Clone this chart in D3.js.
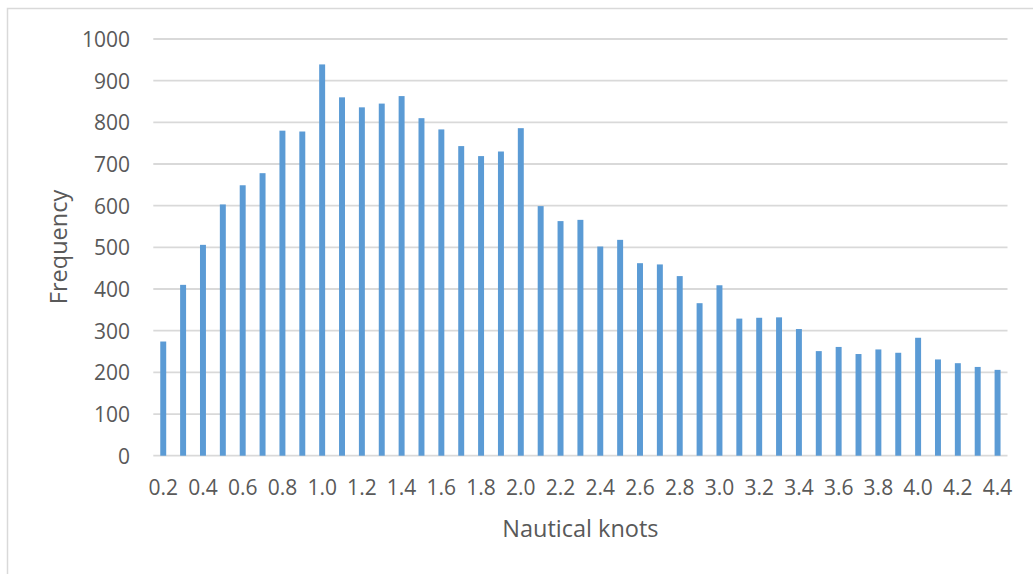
<!DOCTYPE html>
<html>
<head>
<meta charset="utf-8">
<script src="https://cdn.jsdelivr.net/npm/d3@7"></script>
<style>
  html, body { margin: 0; padding: 0; background: #fff; }
  svg { display: block; }
</style>
</head>
<body>
<svg id="chart" width="1033" height="574"></svg>
<script>
const categories = ["0.2","0.3","0.4","0.5","0.6","0.7","0.8","0.9","1.0","1.1","1.2","1.3","1.4","1.5","1.6","1.7","1.8","1.9","2.0","2.1","2.2","2.3","2.4","2.5","2.6","2.7","2.8","2.9","3.0","3.1","3.2","3.3","3.4","3.5","3.6","3.7","3.8","3.9","4.0","4.1","4.2","4.3","4.4"];
const frequency = [274,410,506,603,649,678,780,778,939,860,836,845,863,810,783,743,719,730,786,599,563,566,502,518,462,459,431,366,409,329,331,332,304,251,261,244,255,247,283,231,222,213,206];
const xTickLabels = ["0.2","0.4","0.6","0.8","1.0","1.2","1.4","1.6","1.8","2.0","2.2","2.4","2.6","2.8","3.0","3.2","3.4","3.6","3.8","4.0","4.2","4.4"];
const yTicks = [0,100,200,300,400,500,600,700,800,900,1000];
const xTitle = "Nautical knots";
const yTitle = "Frequency";

const svg = d3.select("#chart");
const textColor = "#595959";
const gridColor = "#d9d9d9";
const barColor = "#5b9bd5";
const font = "'Open Sans', sans-serif";

// chart area border
svg.append("rect")
  .attr("x", 7.5).attr("y", 8.5)
  .attr("width", 1200).attr("height", 700)
  .attr("fill", "none").attr("stroke", gridColor).attr("stroke-width", 1.5);

const plot = { left: 153.3, right: 1007.5, top: 39, bottom: 455.7 };

const x = d3.scaleBand().domain(categories).range([plot.left, plot.right]).paddingInner(0.7).paddingOuter(0.35);
const y = d3.scaleLinear().domain([0, 1000]).range([plot.bottom, plot.top]);

// gridlines
svg.append("g").selectAll("line").data(yTicks).join("line")
  .attr("x1", plot.left).attr("x2", plot.right)
  .attr("y1", d => y(d)).attr("y2", d => y(d))
  .attr("stroke", gridColor).attr("stroke-width", 1.8);

// bars
svg.append("g").selectAll("rect").data(frequency).join("rect")
  .attr("x", (d, i) => x(categories[i]))
  .attr("width", x.bandwidth())
  .attr("y", d => y(d))
  .attr("height", d => y(0) - y(d))
  .attr("fill", barColor);

// y axis labels
const yAxis = d3.axisLeft(y).tickValues(yTicks).tickFormat(d3.format("d")).tickSize(0).tickPadding(0);
const gy = svg.append("g").attr("transform", `translate(130,0)`).call(yAxis);
gy.select(".domain").remove();
gy.selectAll("text").attr("fill", textColor).style("font-family", font).style("font-size", "21px").attr("dy", "0.35em");

// x axis labels
const xAxis = d3.axisBottom(x).tickValues(xTickLabels).tickSize(0).tickPadding(0);
const gx = svg.append("g").attr("transform", `translate(0,495)`).call(xAxis);
gx.select(".domain").remove();
gx.selectAll("text").attr("fill", textColor).style("font-family", font).style("font-size", "21px").attr("dy", 0);

// titles
svg.append("text")
  .attr("x", (plot.left + plot.right) / 2).attr("y", 537)
  .attr("text-anchor", "middle").attr("fill", textColor)
  .style("font-family", font).style("font-size", "23.5px")
  .text(xTitle);

svg.append("text")
  .attr("transform", "translate(66.5,247) rotate(-90)")
  .attr("text-anchor", "middle").attr("fill", textColor)
  .style("font-family", font).style("font-size", "23.5px")
  .text(yTitle);
</script>
</body>
</html>
